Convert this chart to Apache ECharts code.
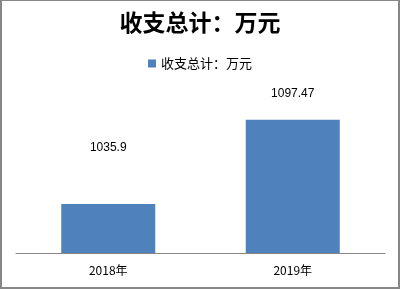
<!DOCTYPE html>
<html>
<head>
<meta charset="utf-8">
<script src="https://cdn.jsdelivr.net/npm/echarts@6/dist/echarts.min.js"></script>
<style>
html,body{margin:0;padding:0;background:#fff;}
#wrap{position:absolute;left:0;top:0;width:400px;height:289px;box-sizing:border-box;border-style:solid;border-color:#878787;border-width:1px 2px 2px 2px;}
#chart{position:absolute;left:0;top:0;width:400px;height:289px;}
</style>
</head>
<body>
<div id="chart"></div>
<div id="wrap"></div>
<script>
const titleText = '收支总计：万元';
const seriesName = '收支总计：万元';
const categories = ['2018年', '2019年'];
const values = [1035.9, 1097.47];

const labelDistances = [50, 20];
const chart = echarts.init(document.getElementById('chart'), null, {renderer: 'canvas'});
chart.setOption({
  backgroundColor: '#ffffff',
  animation: false,
  title: {
    text: titleText,
    left: 'center',
    top: 6,
    textStyle: {fontFamily: 'Noto Sans CJK SC', fontSize: 23, fontWeight: 'bold', color: '#000'}
  },
  legend: {
    data: [seriesName],
    top: 52,
    left: 'center',
    itemWidth: 8,
    itemHeight: 8,
    itemGap: 5,
    icon: 'rect',
    textStyle: {fontFamily: 'Noto Sans CJK SC', fontSize: 13, color: '#000'}
  },
  grid: {left: 16, right: 15, top: 89, bottom: 36, containLabel: false},
  xAxis: {
    type: 'category',
    data: categories,
    axisLine: {lineStyle: {color: '#868686', width: 1}},
    axisTick: {show: false},
    axisLabel: {margin: 11, fontFamily: 'Noto Sans CJK SC', fontSize: 12, color: '#000'}
  },
  yAxis: {
    type: 'value',
    min: 1000,
    max: 1120,
    show: false,
    splitLine: {show: false}
  },
  series: [{
    name: seriesName,
    type: 'bar',
    barWidth: 94,
    itemStyle: {color: '#4f81bd'},
    data: values.map((v, i) => ({
      value: v,
      label: {show: true, position: 'top', distance: labelDistances[i]}
    })),
    label: {fontFamily: 'Liberation Sans', fontSize: 12, color: '#000'}
  }]
});
</script>
</body>
</html>
